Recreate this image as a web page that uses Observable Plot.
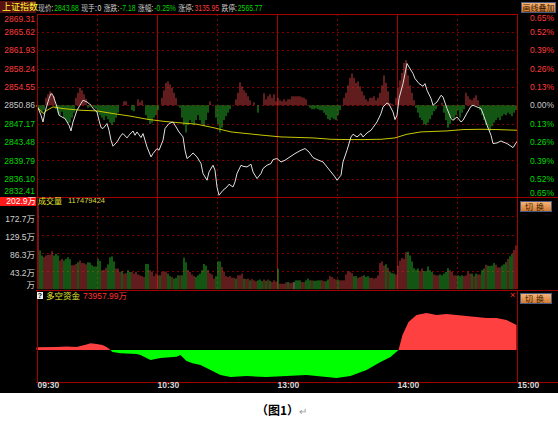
<!DOCTYPE html>
<html><head><meta charset="utf-8">
<script src="https://cdn.jsdelivr.net/npm/d3@7"></script>
<script src="https://cdn.jsdelivr.net/npm/@observablehq/plot@0.6"></script>
<style>
html,body{margin:0;padding:0;background:#fff;}
#wrap{position:relative;width:558px;height:425px;overflow:hidden;font-family:"Liberation Sans","Noto Sans CJK SC",sans-serif;}
#black{position:absolute;left:0;top:0;width:558px;height:393px;background:#000;}
#wrap svg{position:absolute;left:0;top:0;}
.t{position:absolute;font-size:8.5px;line-height:10px;white-space:nowrap;color:#c8c8c8;}
.cn{font-family:"Noto Sans CJK SC",sans-serif;font-size:8px;}
.btn{position:absolute;box-sizing:border-box;background:linear-gradient(#f6b476,#d27a32);border:1px solid #4a5a80;color:#3a1c00;font-family:"Noto Sans CJK SC",sans-serif;font-size:8px;line-height:9px;text-align:center;}
.sep{position:absolute;height:1px;background:#a00000;}
#hdr{position:absolute;left:38px;top:2px;white-space:nowrap;font-size:8.5px;line-height:10px;transform:scaleX(0.8);transform-origin:0 0;}
#hdr span{display:inline-block;}
#hdr .l{font-family:"Noto Sans CJK SC",sans-serif;color:#c8c8c8;}
#hdr .v{font-family:"Liberation Sans",sans-serif;margin-right:3px;margin-left:1px;}
</style></head>
<body><div id="wrap"><div id="black"></div></div>
<script>
// ---------- data ----------
const prevClose = 2850.86;
const priceTicks = [2869.31, 2865.62, 2861.93, 2858.24, 2854.55, 2850.86, 2847.17, 2843.48, 2839.79, 2836.10, 2832.41];
const pctTicks = ["0.65%","0.52%","0.39%","0.26%","0.13%","0.00%","0.13%","0.26%","0.39%","0.52%","0.65%"];
const timeTicks = ["09:30","10:30","13:00","14:00","15:00"];
const timeTickMin = [0, 60, 120, 180, 240];
const volTicks = [172.7, 129.5, 86.3, 43.2];
const volMaxLabel = 202.9;
const headerLabels = ["现价:", "现手:", "涨跌:", "涨幅:", "涨停:", "跌停:"];
const headerValues = ["2843.68", "0", "-7.18", "-0.25%", "3135.95", "2565.77"];
const headerTone = ["dn", "flat", "dn", "dn", "up", "dn"];

const priceMin = [0,2,3,4,6,7,8,10,11,13,14,16,17,18,20,22,23,25,27,28,30,31,32,33,35,36,37,38,40,42,43,45,46,48,49,50,52,53,55,57,58,60,61,63,64,66,68,69,71,73,74,75,77,78,80,82,83,85,86,88,89,90,91,93,95,96,98,99,100,102,103,105,107,108,110,112,113,115,117,118,120,122,124,127,129,132,134,136,138,140,143,145,147,149,150,152,153,155,157,158,160,162,163,165,167,168,170,172,173,175,176,178,179,180,181,183,184,185,186,188,189,191,193,194,195,197,198,200,202,203,205,207,208,210,212,213,215,217,218,220,222,223,225,227,228,230,232,233,235,237,238,240];
const priceVal = [2850.90,2848.95,2847.60,2849.61,2852.31,2853.31,2852.97,2850.62,2848.95,2848.49,2848.29,2846.94,2845.79,2847.60,2849.96,2851.30,2851.97,2851.62,2850.96,2850.30,2849.61,2847.94,2846.48,2846.28,2847.28,2845.93,2843.92,2842.72,2843.58,2844.93,2845.27,2844.39,2844.93,2845.79,2844.93,2845.59,2844.47,2845.27,2842.58,2840.57,2841.25,2842.25,2841.91,2843.92,2846.28,2847.28,2847.60,2846.94,2845.59,2844.59,2841.91,2840.24,2840.91,2841.37,2840.57,2839.24,2837.23,2835.88,2837.55,2838.90,2837.89,2834.53,2832.86,2833.87,2834.53,2835.07,2834.53,2835.54,2837.23,2838.90,2838.69,2838.55,2839.10,2837.55,2836.22,2837.23,2838.23,2838.90,2839.24,2840.04,2840.24,2839.56,2839.90,2840.71,2841.25,2841.91,2842.25,2841.57,2840.44,2840.04,2839.56,2838.55,2837.55,2836.54,2835.88,2836.89,2839.56,2841.91,2844.59,2845.13,2844.59,2845.27,2844.59,2845.39,2845.93,2846.48,2847.60,2849.29,2850.62,2851.42,2851.16,2849.61,2848.08,2848.95,2852.31,2855.32,2857.33,2859.35,2858.66,2857.33,2856.33,2855.32,2854.78,2855.32,2853.98,2852.31,2850.96,2851.62,2852.97,2852.63,2850.30,2848.29,2847.94,2848.61,2847.60,2847.94,2849.41,2850.76,2850.96,2850.62,2850.30,2849.29,2846.94,2844.93,2843.26,2843.38,2843.78,2843.58,2843.26,2842.72,2842.45,2843.68];

const avgMin = [0,3,5,8,13,22,30,38,47,55,63,72,80,88,97,105,113,122,138,147,155,163,172,179,185,192,205,213,222,230,240];
const avgVal = [2850.63,2849.29,2849.95,2850.63,2850.29,2849.95,2849.82,2849.29,2848.75,2848.15,2847.74,2847.41,2847.14,2846.47,2845.60,2845.26,2844.93,2844.59,2844.39,2844.12,2844.06,2844.06,2844.12,2844.39,2845.13,2845.60,2845.80,2846.07,2846.13,2846.07,2845.93];

// red/green breadth bars around the previous close (index points), one per minute
const breadth = [-0.8,-1.2,-1.5,-1.0, 1.5,2.2,2.8,2.5,1.8, -0.8,-1.5,-2.0,-1.3, -2.5,-3.0,-3.6,-3.5,-2.5,-1.5,
 1.5,2.5,3.5,3.0,2.2,1.3, -0.5,-0.3,0,-0.5,-0.8, -1.5,-2.0,-2.5,-3.0,-2.2,-2.8,-3.5,-4.0,-3.4,-2.5,-1.5,
 0,0, 0.8,0.8, 0,0, -1.0,-1.2, 0, 1.2,0.6,1.0, 0, -2.0,-3.0,-3.8,-3.5,-2.5,-2.0,-1.0, 0,
 1.5,3.0,4.5,4.8,4.2,3.5,2.5,1.5, 0,-0.5, -2.5,-4.0,-5.5,-4.0,-3.0,-3.5,-4.0,-3.0,-2.0,-3.0,-3.8,-4.2,-3.0,-1.5,
 0.8, 0,0, -2.5,-3.8,-5.5,-4.5,-3.0,-2.2,-1.5,-0.8, 0,0, 1.2,2.5,4.6,3.8,3.0,2.5,1.8,1.0, 0,0.6,0, -1.5, 0,0,
 2.4,1.2,1.8,2.2,1.5,2.2,0.8,1.5, 1.0,0.8,1.2,0.8,1.2,1.2,1.8,1.8,1.8,1.8,1.8,1.6,1.5,1.2, 0,
 -0.5,-0.8,-0.8,-0.6,-0.8,-1.0,-1.0,-1.5,-2.0,-2.8, -3.0,-2.5,-2.8,-3.0,-2.0,-1.0, 0,
 1.5,2.5,4.0,5.5,6.4,5.5,4.5,4.8,3.8,2.8,2.0,1.2, 0.8,1.5,1.5,1.8,1.0,1.5, 2.5,4.0,6.0,4.5,2.8,0.5, 0.3,0,
 1.5,3.5,5.0,6.5,8.5,9.1,6.0,4.0,2.5,1.0, -0.5,-1.5,-2.5,-3.0,-3.8,-4.0,-3.5,-2.8,-2.0,-1.2,-0.8,
 0,0,0.5, -1.5,-3.0,-4.5,-3.8,-2.5,-3.0,-2.0,-1.0,-2.5,-1.5,-0.8, 2.5,1.8,1.2,1.0,1.5,2.0,1.0,
 -1.0,-2.0,-3.0,-4.0,-4.5,-5.2,-4.2,-3.5,-3.0,-2.5,-3.0,-2.2,-1.8,-2.0,-1.5,-1.8,-2.2,-1.5,-1.0];

// volume (万), one bar per minute
const volume = [202.9,92,80,76,80,82,82,90,80,84, 80,68,72,68,72,76,71,57,57,60, 64,68,62,62,59,64,63,57,54,54,
 72,67,45,46,51,59,76,78,66,49, 49,41,43,37,38,45,41,41,37,41, 35,33,31,29,60,60,45,41,31,37,
 33,33,41,42,42,37,31,29,25,27, 33,33,33,75,64,46,41,35,31,29, 33,37,45,60,56,46,38,35,25,31,
 66,66,53,41,31,29,31,27,27,25, 33,33,37,25,24,25,21,24,21,19, 21,23,19,23,20,23,20,17,21,18,49,
 13,13,13,16,17,15,15,17,21,21, 21,17,17,21,25,21,21,20,20,21, 21,21,19,19,23,31,29,25,23,23,
 21,21,21,35,42,42,38,31,31,27, 29,31,33,29,31,27,27,25,27,33, 62,66,56,59,51,42,38,37,35,56,
 68,74,72,88,89,80,66,50,46,49, 43,49,43,43,54,45,41,35,33,33, 35,33,37,41,50,45,41,33,33,33,
 31,33,31,33,42,37,37,31,37,35, 35,45,49,58,56,55,56,62,58,52, 52,56,59,64,72,78,84,93,104];
// r = up, g = down, n = unchanged
const volDir = ("rggrrrrrgg"+"grrggggrrr"+"grrrrggggg"+"ggrrrggggr"+"rrgrrggrrr"+"rrrrggrrrr"+"rgrrrggrgg"+"grgggrrrrg"+"gggggrrrrg"+"ggrrrrrrrg"+"rrrgrrgrrr"+"gggrgrgrrrg"+
 "rrrrgrrngg"+"grrgggrggg"+"grrggrrrrg"+"rrrrrrrggr"+"rrgggrrrrr"+"rrrgrgggrr"+"rrrrgggggg"+"rrgggggrrr"+"gggggrrrrg"+"ggrrrrgrgr"+"rggrggggrr"+"rgggrggrr").split("");

// 多空资金 (万)
const bsMin = [0,10,15,20,25,27,30,33,35,37,38,42,50,52,57,62,70,72,75,78,82,87,92,97,105,115,125,135,145,150,157,165,172,177,181,183,186,190,195,200,205,210,215,220,225,230,235,240];
const bsVal = [8000,8900,10400,8900,16300,19800,17700,14800,8900,0,-5900,-9800,-11800,-14800,-29600,-23700,-19800,-14800,-32500,-39400,-44400,-59200,-74000,-79900,-76900,-79900,-76900,-74000,-79900,-82800,-76900,-59200,-35500,-20700,0,44400,82800,103500,109400,103500,106500,103500,100600,97600,94700,94700,88700,73957.99];

// ---------- styling ----------
const W = 558, H = 393, mL = 36.5, mR = 41.5;
const upC = "#ff3a3a", dnC = "#00d800", flatC = "#c8c8c8";
const toneColor = {up: upC, dn: dnC, flat: "#e0e0e0"};
const barUp = "#c23a3a", barDn = "#26aa26";
const gridC = "#800000", lineC = "#a40000";
const dotted = {stroke: gridC, strokeDasharray: "2,3", shapeRendering: "crispEdges"};
const solid = {stroke: lineC, shapeRendering: "crispEdges"};
const labelColor = v => v > prevClose ? upC : v < prevClose ? dnC : flatC;

const wrap = document.getElementById("wrap");
const add = html => wrap.insertAdjacentHTML("beforeend", html);

function panel(top, bottom, ydom, marks) {
  return Plot.plot({
    width: W, height: H, marginLeft: mL, marginRight: mR, marginTop: top, marginBottom: H - bottom,
    x: {domain: [0, 240], axis: null}, y: {domain: ydom, axis: null},
    color: {type: "identity"},
    style: {background: "transparent", fontFamily: "Liberation Sans, Noto Sans CJK SC, sans-serif", fontSize: "8.5px", overflow: "visible"},
    marks
  });
}

// decorations under the plots
add('<div style="position:absolute;left:0;top:197px;width:36px;height:9px;background:#ff1a1a"></div>');
add('<div class="sep" style="left:36px;top:197px;width:522px"></div>');
add('<div class="sep" style="left:36px;top:290px;width:522px"></div>');
add('<div class="sep" style="left:36px;top:382px;width:522px"></div>');

const priceData = priceMin.map((m, i) => ({m, v: priceVal[i]}));
const avgData = avgMin.map((m, i) => ({m, v: avgVal[i]}));
const bsData = bsMin.map((m, i) => ({m, v: bsVal[i]}));
const dirColor = {r: barUp, g: barDn, n: "#a0a0a0"};

// price panel
const mid = priceTicks.slice(1, -1);
const midPct = pctTicks.slice(1, -1);
wrap.appendChild(panel(13.5, 197, [priceTicks[10], priceTicks[0]], [
  Plot.ruleY(mid, {y: d => d, ...dotted}),
  Plot.ruleX([30, 90, 150, 210], {x: d => d, ...dotted}),
  Plot.ruleX([60, 120, 180], {x: d => d, ...solid}),
  Plot.ruleX(breadth, {x: (d, i) => i + 0.5, y1: prevClose, y2: d => prevClose + d, stroke: d => d >= 0 ? barUp : barDn, filter: d => d !== 0, strokeWidth: 1}),
  Plot.line(avgData, {x: "m", y: "v", stroke: "#c8c800", strokeWidth: 1}),
  Plot.line(priceData, {x: "m", y: "v", stroke: "#e0e0e0", strokeWidth: 1}),
  Plot.frame({stroke: lineC, shapeRendering: "crispEdges"}),
  Plot.text(mid, {y: d => d, text: d => d.toFixed(2), frameAnchor: "left", dx: -2, textAnchor: "end", fill: labelColor, fontSize: 8.5}),
  Plot.text([priceTicks[0]], {y: d => d, text: d => d.toFixed(2), frameAnchor: "left", dx: -2, dy: 5, textAnchor: "end", fill: upC, fontSize: 8.5}),
  Plot.text([priceTicks[10]], {y: d => d, text: d => d.toFixed(2), frameAnchor: "left", dx: -2, dy: -6.5, textAnchor: "end", fill: dnC, fontSize: 8.5}),
  Plot.text(mid, {y: d => d, text: (d, i) => midPct[i], frameAnchor: "right", dx: 37, textAnchor: "end", fill: labelColor, fontSize: 8.5}),
  Plot.text([priceTicks[0]], {y: d => d, text: [pctTicks[0]], frameAnchor: "right", dx: 37, dy: 4, textAnchor: "end", fill: upC, fontSize: 8.5}),
  Plot.text([priceTicks[10]], {y: d => d, text: [pctTicks[10]], frameAnchor: "right", dx: 37, dy: -4, textAnchor: "end", fill: dnC, fontSize: 8.5})
]));

// volume panel
wrap.appendChild(panel(197, 289.2, [0, 218.9], [
  Plot.ruleY(volTicks, {y: d => d, ...dotted}),
  Plot.ruleX([30, 90, 150, 210], {x: d => d, ...dotted}),
  Plot.ruleX([60, 120, 180], {x: d => d, ...solid}),
  Plot.ruleX(volume, {x: (d, i) => i + 0.5, y1: 0, y2: d => d, stroke: (d, i) => dirColor[volDir[i]], strokeWidth: 1}),
  Plot.ruleX([0, 240], {x: d => d, ...solid}),
  Plot.text(volTicks, {y: d => d, text: d => d.toFixed(1) + "万", frameAnchor: "left", dx: -2, dy: 2, textAnchor: "end", fill: "#d0d0d0", fontSize: 8.5}),
  Plot.text([0], {y: d => d, text: ["万"], frameAnchor: "left", dx: -2, dy: -4, textAnchor: "end", fill: "#d0d0d0", fontSize: 8.5}),
  Plot.text([volMaxLabel], {y: d => d, text: d => d.toFixed(1) + "万", frameAnchor: "left", dx: -1, dy: -2.5, textAnchor: "end", fill: "#ffffff", fontSize: 8.5})
]));

// 多空资金 panel
wrap.appendChild(panel(290, 382.5, [-96135, 177480], [
  Plot.areaY(bsData, {x: "m", y1: 0, y2: d => Math.max(0, d.v), fill: "#ff4040"}),
  Plot.areaY(bsData, {x: "m", y1: 0, y2: d => Math.min(0, d.v), fill: "#00ff00"}),
  Plot.ruleX([0, 240], {x: d => d, ...solid}),
  Plot.text(timeTicks, {x: (d, i) => timeTickMin[i], text: d => d, frameAnchor: "bottom", dy: 5, dx: 0.5, textAnchor: "start", fill: "#d8d8d8", fontSize: 8.5, fontWeight: "bold"})
]));

// header & overlays
add('<div style="position:absolute;left:0;top:1px;width:36px;height:12px;background:#5a1010"></div>');
add('<div class="t cn" style="left:2px;top:2px;color:#ffff30;font-size:9px">上证指数</div>');
add('<div id="hdr">' + headerLabels.map((l, i) =>
  `<span class="l">${l}</span><span class="v" style="color:${toneColor[headerTone[i]]}">${headerValues[i]}</span>`).join("") + '</div>');
add('<div class="btn" style="left:521px;top:2px;width:35px;height:11px">画线叠加</div>');
add('<div class="t cn" style="left:38px;top:196px;color:#e8e830">成交量</div>');
add('<div class="t" style="left:68px;top:196px;color:#d8d840;font-size:7.5px">117479424</div>');
add('<div class="btn" style="left:520px;top:201px;width:32px;height:11px;letter-spacing:3px">切换</div>');
add('<div class="btn" style="left:520px;top:293px;width:32px;height:11px;letter-spacing:3px">切换</div>');
add('<div class="t" style="left:510px;top:290px;color:#ff3030;font-size:9px">×</div>');
add('<div style="position:absolute;left:37px;top:292px;width:6px;height:7px;background:#f0f0f0;color:#000;font-size:7px;line-height:7px;text-align:center;font-weight:bold;font-family:Liberation Sans">?</div>');
add('<div class="t cn" style="left:46px;top:290px;color:#e8e830;font-size:8.5px">多空资金</div>');
add('<div class="t" style="left:83px;top:291px;color:#ff3030">73957.99万</div>');
add('<div style="position:absolute;left:256px;top:401px;font-family:\'Noto Sans CJK SC\';font-weight:bold;font-size:12px;color:#000;white-space:nowrap">（图1）<span style="font-weight:normal;color:#999;font-size:10px">↵</span></div>');
</script></body></html>
